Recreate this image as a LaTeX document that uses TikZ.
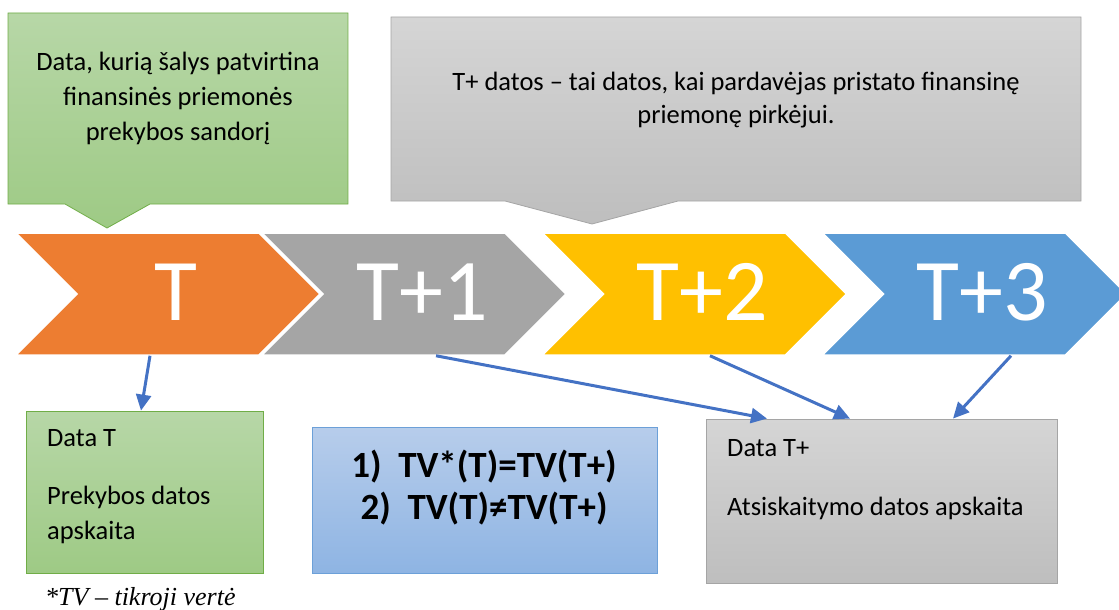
\documentclass[tikz,border=0pt]{standalone}
\usepackage{fontspec}
\setmainfont{Carlito}
\newfontfamily\notefont{Liberation Serif}
\usepackage{tikz}
\usetikzlibrary{arrows.meta,calc,positioning,shapes.symbols}
\definecolor{chorange}{RGB}{237,125,49}
\definecolor{chgray}{RGB}{165,165,165}
\definecolor{chyellow}{RGB}{255,192,0}
\definecolor{chblue}{RGB}{91,155,213}
\definecolor{arrowblue}{RGB}{68,114,196}
\definecolor{greentop}{RGB}{183,215,167}
\definecolor{greenbot}{RGB}{158,202,133}
\definecolor{greenline}{RGB}{112,173,71}
\definecolor{graytop}{RGB}{213,213,213}
\definecolor{graybot}{RGB}{190,190,190}
\definecolor{grayline}{RGB}{165,165,165}
\definecolor{bluetop}{RGB}{183,205,235}
\definecolor{bluebot}{RGB}{142,180,227}
\definecolor{blueline}{RGB}{108,160,216}
\tikzstyle{chevron}=[signal,signal from=west,signal to=east,signal pointer angle=90,draw=white,line width=1.5pt,minimum width=304pt,minimum height=122pt,inner sep=0pt]
\tikzstyle{chevlabel}=[text=white,inner sep=0pt,font=\fontsize{88}{88}\selectfont]
\tikzstyle{bodytext}=[inner sep=0pt,font=\fontsize{26.5}{35}\selectfont]
\tikzstyle{panel}=[draw,line width=0.8pt,inner sep=0pt]
\tikzstyle{conn}=[draw=arrowblue,line width=3pt,-{Triangle[length=16pt,width=15pt]}]

\begin{document}
\begin{tikzpicture}[x=1pt,y=-1pt]
  \useasboundingbox (0,0) rectangle (1119,610);

  % callouts over the time line
  \draw[greenline,line width=0.8pt,top color=greentop,bottom color=greenbot]
    (8,13) -- (348,13) -- (348,204) -- (150,204) -- (107,228) -- (65,204) -- (8,204) -- cycle;
  \node[bodytext,align=center] (trade) at (178,98) {Data, kurią šalys patvirtina\\finansinės priemonės\\prekybos sandorį};
  \draw[grayline,line width=0.8pt,top color=graytop,bottom color=graybot]
    (391,17) -- (1081,17) -- (1081,201) -- (678,201) -- (592,224) -- (505,201) -- (391,201) -- cycle;
  \node[bodytext,align=center,font=\fontsize{26.5}{33}\selectfont] (settle) at (736,100) {T+ datos – tai datos, kai pardavėjas pristato finansinę\\priemonę pirkėjui.};

  % time line
  \foreach \name/\x/\col/\lab in {cT/168/chorange/T, cT1/414/chgray/T+1, cT2/694.5/chyellow/T+2, cT3/974.5/chblue/T+3}{
    \node[chevron,fill=\col] (\name) at (\x,294) {};
    \node[chevlabel] (\name-l) at ([xshift=8pt,yshift=2pt]\name.center) {\lab};
  }

  % boxes below
  \node[panel,draw=greenline,top color=greentop,bottom color=greenbot,minimum width=237pt,minimum height=162pt] (dT) at (144.5,492) {};
  \node[bodytext,align=left,anchor=north west] (dT-txt) at (47,429) {Data T\\[23pt]Prekybos datos\\apskaita};
  \node[panel,draw=blueline,top color=bluetop,bottom color=bluebot,minimum width=345pt,minimum height=146pt] (tv) at (484.5,500) {};
  \node[inner sep=0pt,align=center,font=\bfseries\fontsize{37}{38}\selectfont] (tv-txt) at (484,488) {1)\ \ TV*(T)=TV(T+)\\[4pt]2)\ \ TV(T)≠TV(T+)};
  \node[panel,draw=grayline,top color=graytop,bottom color=graybot,minimum width=351pt,minimum height=164pt] (dTp) at (881.5,501) {};
  \node[bodytext,align=left,anchor=north west] (dTp-txt) at (727,439) {Data T+\\[24pt]Atsiskaitymo datos apskaita};

  \node[inner sep=0pt,anchor=base west,font=\notefont\itshape\fontsize{26}{26}\selectfont] (note) at (45,605) {*TV – tikroji vertė};

  \foreach \from/\dx/\to/\ex in {cT/-18/dT/-3.5, cT1/22/dTp/-114.5, cT2/15.5/dTp/-31.5, cT3/36.5/dTp/71.5}
    \draw[conn] ([xshift=\dx pt]\from.south) -- ([xshift=\ex pt]\to.north);
\end{tikzpicture}
\end{document}
